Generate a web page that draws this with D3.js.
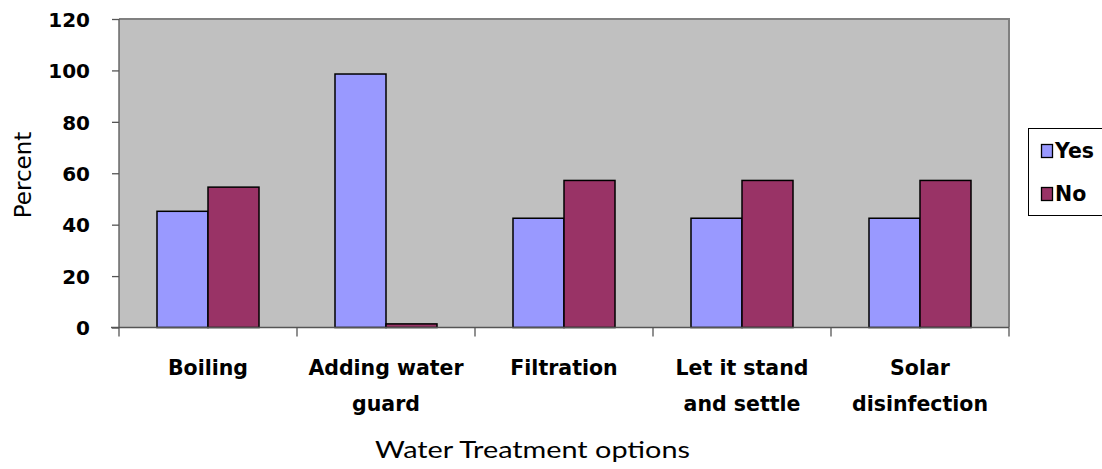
<!DOCTYPE html>
<html><head><meta charset="utf-8">
<script src="https://cdn.jsdelivr.net/npm/d3@7"></script>
<style>body{margin:0;background:#fff;}svg{display:block;}</style>
</head><body>
<svg id="chart" width="1102" height="469"></svg>
<script>
const categories = [["Boiling"], ["Adding water", "guard"], ["Filtration"], ["Let it stand", "and settle"], ["Solar", "disinfection"]];
const seriesNames = ["Yes", "No"];
const yesValues = [45.2, 98.6, 42.5, 42.5, 42.5];
const noValues = [54.6, 1.4, 57.2, 57.2, 57.2];
const yTicks = [0, 20, 40, 60, 80, 100, 120];
const colors = ["#9999FF", "#993366"];

const svg = d3.select("#chart");
const m = {left: 119, right: 1009, top: 19, bottom: 327.5};
const catKeys = categories.map((c, i) => i);
const x = d3.scaleBand().domain(catKeys).range([m.left, m.right]).paddingInner(0).paddingOuter(0);
const x1 = d3.scaleBand().domain(seriesNames).range([0, x.bandwidth()]).paddingInner(0).paddingOuter(0.745);
const y = d3.scaleLinear().domain([0, 120]).range([m.bottom, m.top]);

const boldFont = "'DejaVu Sans', sans-serif";

// plot background
svg.append("rect").attr("x", m.left).attr("y", m.top).attr("width", m.right - m.left).attr("height", m.bottom - m.top).attr("fill", "#C0C0C0");
svg.append("path").attr("d", `M${m.left},${m.top}H${m.right}V${m.bottom}`).attr("fill", "none").attr("stroke", "#808080").attr("stroke-width", 2);

const data = catKeys.map(i => ({i, vals: [yesValues[i], noValues[i]]}));
const g = svg.append("g");
data.forEach(d => {
  d.vals.forEach((v, k) => {
    g.append("rect")
      .attr("x", x(d.i) + x1(seriesNames[k]))
      .attr("y", y(v))
      .attr("width", x1.bandwidth())
      .attr("height", y(0) - y(v))
      .attr("fill", colors[k])
      .attr("stroke", "#000")
      .attr("stroke-width", 1.5);
  });
});

// y axis
const yAxis = d3.axisLeft(y).tickValues(yTicks).tickSize(7).tickPadding(22);
const ya = svg.append("g").attr("transform", `translate(${m.left},0)`).call(yAxis);
ya.select(".domain").attr("stroke", "#555").attr("stroke-width", 1.3).attr("d", `M0,${m.top}V${m.bottom}`);
ya.selectAll(".tick line").attr("stroke", "#555").attr("stroke-width", 1.3);
ya.selectAll(".tick text").attr("font-family", boldFont).attr("font-weight", "bold").attr("font-size", 20).attr("fill", "#000").attr("dy", "0.36em");

// x axis
const xa = svg.append("g").attr("transform", `translate(0,${m.bottom})`);
xa.append("line").attr("x1", m.left - 8).attr("x2", m.right).attr("y1", 0).attr("y2", 0).attr("stroke", "#555").attr("stroke-width", 1.3);
const tickXs = catKeys.map(i => x(i)).concat([x(catKeys[catKeys.length - 1]) + x.bandwidth()]);
xa.selectAll("line.t").data(tickXs).enter().append("line").attr("class", "t")
  .attr("x1", d => d).attr("x2", d => d).attr("y1", 0).attr("y2", 9).attr("stroke", "#555").attr("stroke-width", 1.3);
catKeys.forEach(i => {
  const t = svg.append("text").attr("x", x(i) + x.bandwidth() / 2).attr("y", 375)
    .attr("text-anchor", "middle").attr("font-family", boldFont).attr("font-weight", "bold").attr("font-size", 20.5).attr("fill", "#000");
  categories[i].forEach((line, j) => {
    t.append("tspan").attr("x", x(i) + x.bandwidth() / 2).attr("dy", j === 0 ? 0 : 36).text(line);
  });
});

// axis titles
svg.append("text").attr("x", 375).attr("y", 458)
  .attr("textLength", 315).attr("lengthAdjust", "spacingAndGlyphs")
  .attr("font-family", "'Lato', sans-serif").attr("font-size", 24).attr("fill", "#000").text("Water Treatment options");
svg.append("text").attr("transform", "translate(31,175) rotate(-90)").attr("text-anchor", "middle")
  .attr("font-family", "'DejaVu Sans', sans-serif").attr("font-size", 23).attr("fill", "#000").text("Percent");

// legend
const lg = svg.append("g");
lg.append("rect").attr("x", 1028.5).attr("y", 128.5).attr("width", 90).attr("height", 87).attr("fill", "#fff").attr("stroke", "#000").attr("stroke-width", 1);
seriesNames.forEach((s, k) => {
  const base = 158 + k * 43;
  lg.append("rect").attr("x", 1041.5).attr("y", base - 13.5).attr("width", 11).attr("height", 13).attr("fill", colors[k]).attr("stroke", "#000").attr("stroke-width", 1.3);
  lg.append("text").attr("x", 1055).attr("y", base).attr("font-family", boldFont).attr("font-weight", "bold").attr("font-size", 20.5).attr("fill", "#000").text(s);
});
</script>
</body></html>
